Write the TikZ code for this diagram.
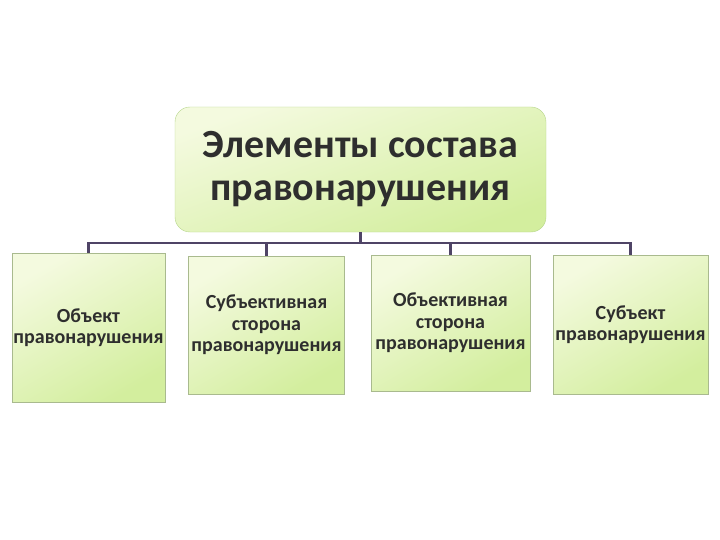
\documentclass[tikz,border=0pt]{standalone}
\usepackage{fontspec}
\setmainfont{Carlito}
\usetikzlibrary{positioning,calc}
\definecolor{paleg}{HTML}{F4FADF}
\definecolor{deepg}{HTML}{D3EE9E}
\definecolor{rimg}{HTML}{B5D58A}
\definecolor{boxrim}{HTML}{A9BA8E}
\definecolor{busline}{HTML}{4F4466}
\definecolor{inkgray}{HTML}{2E2E2E}
\tikzset{
    headbox/.style={draw=rimg, rounded corners=15pt, top color=paleg, bottom color=deepg,
        shading angle=20, align=center, text=inkgray, font=\bfseries\fontsize{40}{43}\selectfont,
        minimum width=371pt, minimum height=125pt, inner sep=0pt},
    partbox/.style={draw=boxrim, top color=paleg, bottom color=deepg, shading angle=30,
        align=center, text=inkgray, font=\bfseries\fontsize{20}{21.5}\selectfont, inner sep=0pt},
    link/.style={draw=busline, line width=2.2pt}
}
\begin{document}
\begin{tikzpicture}[x=1pt,y=-1pt]
    \useasboundingbox (0,0) rectangle (720,540);
    \node[headbox] (head) at (360.5,169.5) {Элементы состава\\правонарушения};
    \node[partbox, minimum width=153pt, minimum height=149pt] (obj) at (88.5,327.5) {Объект\\правонарушения};
    \node[partbox, minimum width=156pt, minimum height=138pt] (subjside) at (266.5,325) {Субъективная\\сторона\\правонарушения};
    \node[partbox, minimum width=159pt, minimum height=136pt] (objside) at (450.5,323) {Объективная\\сторона\\правонарушения};
    \node[partbox, minimum width=155pt, minimum height=139pt] (subj) at (630.5,324.5) {Субъект\\правонарушения};
    \coordinate (bus) at (0,243);

    \draw[link] (head.south) -- (head.south |- bus);
    \draw[link] (obj.north) -- (obj.north |- bus) -- (subj.north |- bus) -- (subj.north);
    \draw[link] (subjside.north) -- (subjside.north |- bus);
    \draw[link] (objside.north) -- (objside.north |- bus);
\end{tikzpicture}
\end{document}
